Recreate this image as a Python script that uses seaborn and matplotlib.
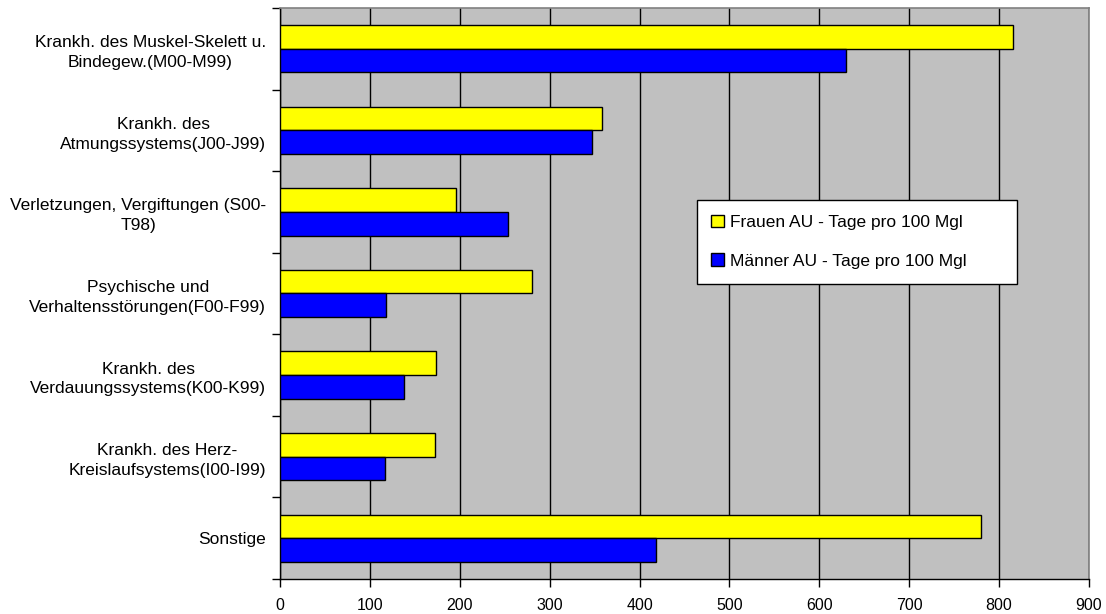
import pandas as pd
import matplotlib
matplotlib.use("Agg")
import matplotlib.pyplot as plt
import seaborn as sns

# ============================================================================
# DATA
# ============================================================================

categories = [
    "Krankh. des Muskel-Skelett u.\nBindegew.(M00-M99)",
    "Krankh. des\nAtmungssystems(J00-J99)",
    "Verletzungen, Vergiftungen (S00-\nT98)",
    "Psychische und\nVerhaltensstörungen(F00-F99)",
    "Krankh. des\nVerdauungssystems(K00-K99)",
    "Krankh. des Herz-\nKreislaufsystems(I00-I99)",
    "Sonstige",
]
series_names = ["Frauen AU - Tage pro 100 Mgl", "Männer AU - Tage pro 100 Mgl"]
frauen = [815, 358, 196, 280, 174, 172, 780]
maenner = [630, 347, 254, 118, 138, 117, 418]
x_ticks = [0, 100, 200, 300, 400, 500, 600, 700, 800, 900]

df = pd.DataFrame({
    "kategorie": categories * 2,
    "wert": frauen + maenner,
    "serie": [series_names[0]] * len(categories) + [series_names[1]] * len(categories),
})

# ============================================================================
# PLOT
# ============================================================================

sns.set_style("white")
plt.rcParams["font.family"] = ["Liberation Sans", "DejaVu Sans"]
plt.rcParams["text.color"] = "black"
plt.rcParams["xtick.color"] = "black"
plt.rcParams["ytick.color"] = "black"

fig, ax = plt.subplots(figsize=(11.06, 6.14), dpi=100)
fig.subplots_adjust(left=0.2532, right=0.9846, top=0.987, bottom=0.057)
ax.set_facecolor("#C0C0C0")

sns.barplot(data=df, y="kategorie", x="wert", hue="serie", orient="h",
            order=categories, hue_order=series_names,
            palette=["#FFFF00", "#0000FF"], saturation=1, width=0.58,
            edgecolor="black", linewidth=1, ax=ax, zorder=3)

ax.set_xlim(0, 900)
ax.set_ylim(6.5, -0.5)
ax.set_xticks(x_ticks)
ax.set_xticklabels([str(t) for t in x_ticks], fontsize=11.5)
ax.xaxis.grid(True, color="black", linewidth=1)
ax.set_axisbelow(True)

# category labels centred, tick marks on the boundaries
ax.set_yticks(range(len(categories)))
ax.set_yticklabels(categories, fontsize=12.5, multialignment="center")
for lbl in ax.get_yticklabels():
    lbl.set_linespacing(1.4)
ax.set_yticks([i - 0.5 for i in range(len(categories) + 1)], minor=True)
ax.tick_params(axis="y", which="major", length=0, pad=10)
ax.tick_params(axis="y", which="minor", length=6, width=1, color="black", direction="out", left=True)
ax.tick_params(axis="x", which="major", length=6, width=1, color="black", direction="out", bottom=True, pad=8)
ax.set_xlabel("")
ax.set_ylabel("")

for side in ["top", "right"]:
    ax.spines[side].set_color("#808080")
    ax.spines[side].set_linewidth(1.2)
for side in ["left", "bottom"]:
    ax.spines[side].set_color("black")
    ax.spines[side].set_linewidth(1)

leg = ax.legend(loc="upper left", bbox_to_anchor=(0.515, 0.517, 0.396, 0.147),
                mode="expand", fontsize=12.5,
                frameon=True, fancybox=False, framealpha=1, edgecolor="black",
                handlelength=0.75, handleheight=0.75, handletextpad=0.3,
                labelspacing=1.35, borderpad=0.85, borderaxespad=0)
leg.get_frame().set_linewidth(1)

plt.savefig("out.png", dpi=100)
